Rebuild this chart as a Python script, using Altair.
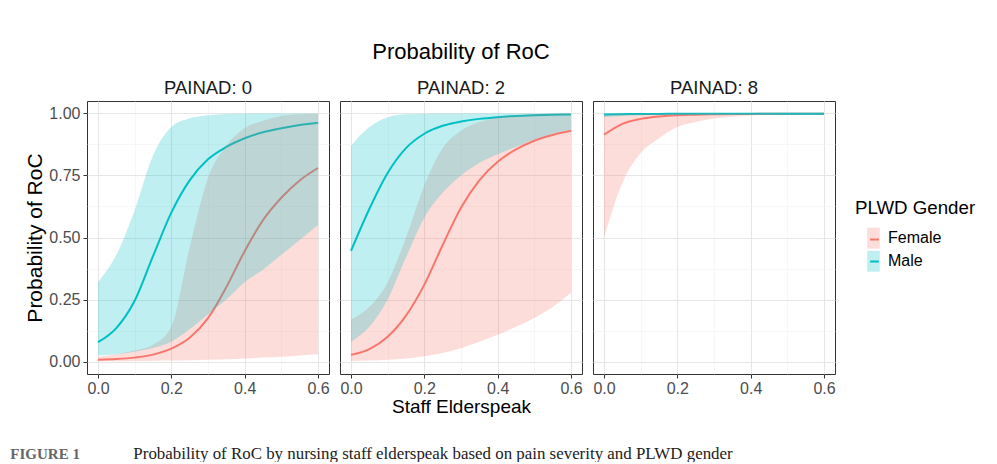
import altair as alt
import pandas as pd

# ---------------- data ----------------
XS = [0.0, 0.05, 0.1, 0.15, 0.2, 0.25, 0.3, 0.35, 0.4, 0.45, 0.5, 0.55, 0.6]
PANELS = ["PAINAD: 0", "PAINAD: 2", "PAINAD: 8"]
GENDERS = ["Female", "Male"]

# PAINAD 0
f0_fit = [0.007, 0.010, 0.016, 0.028, 0.052, 0.096, 0.175, 0.30, 0.445, 0.57, 0.66, 0.73, 0.78]
f0_lo = [0.001, 0.001, 0.002, 0.003, 0.004, 0.005, 0.007, 0.009, 0.012, 0.016, 0.02, 0.025, 0.03]
f0_hi = [0.02, 0.03, 0.045, 0.068, 0.14, 0.46, 0.74, 0.87, 0.94, 0.97, 0.99, 0.997, 0.999]
m0_fit = [0.078, 0.135, 0.245, 0.425, 0.60, 0.73, 0.815, 0.865, 0.90, 0.924, 0.94, 0.953, 0.962]
m0_lo = [0.025, 0.03, 0.04, 0.055, 0.08, 0.13, 0.19, 0.25, 0.32, 0.37, 0.43, 0.49, 0.55]
m0_hi = [0.32, 0.43, 0.61, 0.83, 0.945, 0.98, 0.993, 0.998, 0.999, 1.0, 1.0, 1.0, 1.0]

# PAINAD 2
f2_fit = [0.027, 0.05, 0.10, 0.185, 0.31, 0.47, 0.62, 0.73, 0.805, 0.855, 0.89, 0.913, 0.93]
f2_lo = [0.002, 0.004, 0.007, 0.012, 0.022, 0.035, 0.054, 0.08, 0.108, 0.14, 0.176, 0.22, 0.277]
f2_hi = [0.17, 0.22, 0.32, 0.50, 0.71, 0.86, 0.93, 0.965, 0.985, 0.993, 0.997, 0.999, 1.0]
m2_fit = [0.446, 0.615, 0.76, 0.86, 0.918, 0.95, 0.967, 0.978, 0.985, 0.99, 0.993, 0.995, 0.996]
m2_lo = [0.08, 0.14, 0.25, 0.42, 0.58, 0.68, 0.75, 0.80, 0.835, 0.865, 0.895, 0.918, 0.935]
m2_hi = [0.87, 0.945, 0.985, 0.997, 0.999, 1.0, 1.0, 1.0, 1.0, 1.0, 1.0, 1.0, 1.0]

# PAINAD 8
f8_fit = [0.914, 0.958, 0.978, 0.988, 0.993, 0.995, 0.997, 0.998, 0.998, 0.999, 0.999, 0.999, 0.999]
f8_lo = [0.50, 0.72, 0.84, 0.90, 0.945, 0.965, 0.979, 0.987, 0.992, 0.995, 0.997, 0.998, 0.998]
f8_hi = [0.995, 0.998, 0.999, 0.999, 1.0, 1.0, 1.0, 1.0, 1.0, 1.0, 1.0, 1.0, 1.0]
m8_fit = [0.996, 0.997, 0.998, 0.998, 0.999, 0.999, 0.999, 0.999, 0.999, 0.999, 0.999, 0.999, 0.999]
m8_lo = [0.985, 0.99, 0.993, 0.995, 0.996, 0.997, 0.998, 0.998, 0.998, 0.998, 0.998, 0.998, 0.998]
m8_hi = [0.999, 1.0, 1.0, 1.0, 1.0, 1.0, 1.0, 1.0, 1.0, 1.0, 1.0, 1.0, 1.0]

SERIES = {
    ("PAINAD: 0", "Female"): (f0_fit, f0_lo, f0_hi),
    ("PAINAD: 0", "Male"): (m0_fit, m0_lo, m0_hi),
    ("PAINAD: 2", "Female"): (f2_fit, f2_lo, f2_hi),
    ("PAINAD: 2", "Male"): (m2_fit, m2_lo, m2_hi),
    ("PAINAD: 8", "Female"): (f8_fit, f8_lo, f8_hi),
    ("PAINAD: 8", "Male"): (m8_fit, m8_lo, m8_hi),
}

rows = []
for (panel, gender), (fit, lo, hi) in SERIES.items():
    for x, a, b, c in zip(XS, fit, lo, hi):
        rows.append({"panel": panel, "gender": gender, "x": x, "fit": a, "lo": b, "hi": c})
df = pd.DataFrame(rows)

# ---------------- styling ----------------
FONT = "Liberation Sans"
SERIF = "Liberation Serif"
COLORS = ["#F8766D", "#00BFC4"]
XGRID = [0.0, 0.1, 0.2, 0.3, 0.4, 0.5, 0.6]
YGRID = [0.0, 0.125, 0.25, 0.375, 0.5, 0.625, 0.75, 0.875, 1.0]
XMINOR = "round(datum.value*10) % 2 === 1"
YMINOR = "round(datum.value*8) % 2 === 1"


def cond(test, a, b):
    return {"condition": {"test": test, "value": a}, "value": b}


def x_axis(title):
    return alt.Axis(
        values=XGRID,
        labelExpr=f"{XMINOR} ? '' : format(datum.value, '.1f')",
        labelFlush=False, labelOverlap=False,
        grid=True,
        gridColor=cond(XMINOR, "#f2f2f2", "#e6e6e6"),
        gridWidth=cond(XMINOR, 0.6, 1.1),
        tickOpacity=cond(XMINOR, 0, 1),
        tickColor="#333333", tickSize=4, tickWidth=1,
        domain=False,
        labelColor="#4d4d4d", labelFontSize=16, labelFont=FONT, labelPadding=2,
        title=title,
        titleFontSize=19, titleFont=FONT, titleFontWeight="normal",
        titleColor="#000000", titlePadding=1,
    )


def y_axis(first):
    common = dict(
        values=YGRID,
        grid=True,
        gridColor=cond(YMINOR, "#f2f2f2", "#e6e6e6"),
        gridWidth=cond(YMINOR, 0.6, 1.1),
        domain=False,
    )
    if first:
        return alt.Axis(
            labelExpr=f"{YMINOR} ? '' : format(datum.value, '.2f')",
            labelOverlap=False,
            tickOpacity=cond(YMINOR, 0, 1),
            tickColor="#333333", tickSize=4, tickWidth=1,
            labelColor="#4d4d4d", labelFontSize=16, labelFont=FONT, labelPadding=3,
            title="Probability of RoC", titleFontSize=21, titleFont=FONT,
            titleFontWeight="normal", titleColor="#000000", titlePadding=3,
            **common,
        )
    return alt.Axis(labels=False, ticks=False, title=None, **common)


XSCALE = alt.Scale(domain=[-0.03, 0.63], nice=False, zero=False)
YSCALE = alt.Scale(domain=[-0.05, 1.05], nice=False, zero=False)

# legends are positioned relative to the first panel's plot origin
LEG_X = 768
fill_legend = alt.Legend(
    title="PLWD Gender", orient="none", legendX=LEG_X, legendY=98,
    symbolType="M-0.6,-1H0.6V1H-0.6Z", symbolSize=441, symbolOpacity=0.25,
    symbolStrokeWidth=0, symbolOffset=8,
    titleFont=FONT, titleFontSize=18.7, titleFontWeight="normal", titleColor="#000000",
    titlePadding=10,
    labelFont=FONT, labelFontSize=16, labelColor="#000000", labelOffset=4,
    rowPadding=2,
)
stroke_legend = alt.Legend(
    title=None, orient="none", legendX=LEG_X, legendY=127,
    symbolType="M-0.42,0H0.42", symbolSize=441, symbolStrokeWidth=2, symbolOffset=8,
    labelExpr="''", labelFontSize=16, rowPadding=2,
)


def panel(name, idx):
    d = df[df.panel == name]
    xa = x_axis("Staff Elderspeak" if idx == 1 else None)
    ya = y_axis(idx == 0)
    line = alt.Chart(d).mark_line(strokeWidth=2, interpolate="monotone").encode(
        x=alt.X("x:Q", scale=XSCALE, axis=xa),
        y=alt.Y("fit:Q", scale=YSCALE, axis=ya),
        stroke=alt.Stroke("gender:N", scale=alt.Scale(domain=GENDERS, range=COLORS),
                          legend=stroke_legend),
    )
    area = alt.Chart(d).mark_area(opacity=0.25, interpolate="monotone").encode(
        x=alt.X("x:Q", scale=XSCALE, axis=xa),
        y=alt.Y("lo:Q", scale=YSCALE, axis=ya),
        y2="hi:Q",
        fill=alt.Fill("gender:N", scale=alt.Scale(range=COLORS), legend=fill_legend),
    )
    title = alt.TitleParams(
        text="Probability of RoC" if idx == 1 else " ",
        subtitle=name,
        font=FONT, fontSize=22, fontWeight="normal", color="#000000",
        subtitleFont=FONT, subtitleFontSize=18.5, subtitleColor="#1a1a1a",
        subtitlePadding=15, offset=3, anchor="middle",
    )
    return alt.layer(line, area).properties(width=242, height=273, title=title)


row = alt.hconcat(*[panel(p, i) for i, p in enumerate(PANELS)], spacing=9).properties(
    title=alt.TitleParams(
        "FIGURE 1", orient="bottom", anchor="start", font=SERIF, fontSize=15,
        fontWeight="bold", color="#666666", offset=30, dx=-14,
    )
).resolve_scale(fill="shared", stroke="shared")

chart = alt.vconcat(row).properties(
    title=alt.TitleParams(
        "Probability of RoC by nursing staff elderspeak based on pain severity and PLWD gender",
        orient="bottom", anchor="start", font=SERIF, fontSize=16.9,
        fontWeight="normal", color="#222222", offset=0, dx=123, dy=-16,
    ),
    padding={"left": 2, "top": 32, "right": 5, "bottom": 0},
).configure_view(stroke="#333333", strokeWidth=1)

chart.save("out.html", embed_options={"renderer": "svg", "actions": False})
